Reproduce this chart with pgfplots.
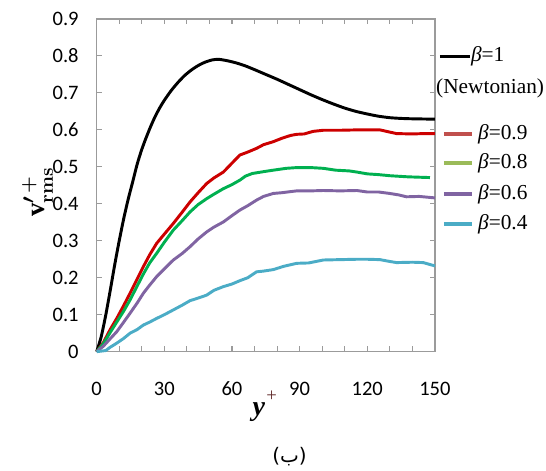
\documentclass[border=0pt]{standalone}
\usepackage{fontspec}
\setmainfont{Liberation Serif}
\newfontfamily\carlito{Carlito}
\newfontfamily\dejavu{DejaVu Sans}
\newfontfamily\arabicfont[Script=Arabic]{DejaVu Sans}
\TeXXeTstate=1
\usepackage{pgfplots}
\pgfplotsset{compat=1.18}

\definecolor{frame}{RGB}{155,155,155}
\definecolor{cNine}{RGB}{204,0,0}
\definecolor{cEight}{RGB}{0,176,80}
\definecolor{cSix}{RGB}{128,100,162}
\definecolor{cFour}{RGB}{75,172,198}
\definecolor{lNine}{RGB}{192,80,77}
\definecolor{lEight}{RGB}{155,187,89}
\definecolor{supcol}{RGB}{95,40,40}

\begin{document}
\begin{tikzpicture}
\begin{axis}[
  name=ax,
  scale only axis,
  width=253.7pt, height=249.5pt,
  xmin=0, xmax=150, ymin=0, ymax=0.9,
  xtick={0,30,...,150},
  minor xtick={10,20,40,50,70,80,100,110,130,140},
  ytick={0,0.1,...,0.9},
  yticklabels={0,0.1,0.2,0.3,0.4,0.5,0.6,0.7,0.8,0.9},
  tick align=inside,
  major tick length=4pt, minor tick length=4pt,
  tick style={frame, line width=0.8pt},
  axis line style={frame, line width=0.9pt},
  /pgf/number format/assume math mode=true,
  ticklabel style={font=\carlito\fontsize{15.4}{18}\selectfont},
  xticklabel style={yshift=-19pt},
  yticklabel style={xshift=-10pt},
  clip=false,
]
% beta = 1 (Newtonian)
\addplot[black, line width=2.2pt, smooth, tension=0.4] coordinates {
(0,0) (2,0.04) (4,0.098) (6,0.165) (8,0.235) (10,0.3) (12,0.36)
(14,0.413) (16,0.46) (18,0.508) (20,0.547) (22,0.58) (24,0.61)
(26,0.637) (28,0.66) (30,0.68) (33,0.706) (36,0.728) (39,0.747)
(42,0.762) (45,0.774) (48,0.783) (51,0.789) (54,0.791) (58,0.787)
(62,0.781) (66,0.773) (70,0.763) (75,0.75) (80,0.737) (85,0.723)
(90,0.709) (95,0.695) (100,0.682) (105,0.67) (110,0.659) (115,0.65)
(120,0.643) (125,0.637) (130,0.633) (135,0.631) (140,0.63) (150,0.629)};

% beta = 0.9
\addplot[cNine, line width=2.2pt] coordinates {
(0,0) (3,0.025) (6,0.06) (8.9,0.09) (12,0.125) (14.8,0.158) (18,0.197)
(20.7,0.23) (23.5,0.262) (26.6,0.293) (30,0.318) (34,0.347) (38,0.378)
(41.4,0.405) (45,0.43) (48.8,0.455) (52,0.47) (56.2,0.486) (60,0.51)
(63.5,0.532) (67,0.54) (70.9,0.55) (74,0.56) (78.3,0.568) (82,0.577)
(86,0.585) (88.7,0.588) (92,0.589) (96,0.596) (100.5,0.599) (108,0.599)
(115.3,0.6) (120,0.6) (125.6,0.6) (130,0.594) (133,0.59) (140,0.589)
(145,0.59) (150,0.59)};

% beta = 0.8
\addplot[cEight, line width=2.2pt] coordinates {
(0,0) (3,0.022) (6,0.052) (8.9,0.08) (12,0.11) (14.8,0.14) (18,0.178)
(20.7,0.21) (23.5,0.24) (26.6,0.266) (30,0.296) (34,0.329) (38,0.355)
(41.4,0.378) (45,0.398) (48.8,0.414) (52,0.426) (56.2,0.441) (60,0.452)
(63.5,0.464) (66,0.475) (69,0.482) (74,0.487) (78.3,0.491) (84,0.496)
(88.7,0.498) (95,0.498) (100.5,0.496) (106,0.491) (112,0.489)
(115.3,0.486) (120,0.481) (125,0.479) (130,0.476) (138,0.473)
(147.8,0.471)};

% beta = 0.6
\addplot[cSix, line width=2.2pt] coordinates {
(0,0) (3,0.015) (6,0.035) (8.9,0.054) (12,0.08) (14.8,0.104) (18,0.132)
(20.7,0.158) (23.5,0.18) (26.6,0.203) (30,0.224) (34,0.248) (38,0.266)
(41.4,0.284) (45,0.305) (48.8,0.324) (52,0.337) (56.2,0.351) (60,0.368)
(63.5,0.383) (67,0.395) (70.9,0.41) (74,0.42) (78.3,0.428) (82,0.43)
(88.7,0.435) (95,0.435) (100.5,0.436) (108,0.435) (115.3,0.436)
(120,0.432) (125,0.432) (130,0.428) (134,0.424) (137.4,0.419)
(143,0.42) (150,0.416)};

% beta = 0.4
\addplot[cFour, line width=2.2pt] coordinates {
(0,0) (4,0.003) (6,0.012) (8.9,0.023) (12,0.036) (14.8,0.05) (18,0.06)
(20.7,0.072) (23.5,0.08) (26.6,0.09) (30,0.1) (34,0.113) (38,0.126)
(41.4,0.138) (45,0.145) (48.8,0.153) (52,0.166) (56.2,0.176) (60,0.183)
(63.5,0.192) (67,0.2) (70.9,0.216) (74,0.218) (78.3,0.222) (83,0.231)
(88.7,0.239) (94,0.24) (100.5,0.248) (108,0.249) (115.3,0.25)
(120,0.25) (125.6,0.249) (130,0.244) (133,0.241) (140,0.242)
(144.8,0.241) (150,0.232)};

% legend, set beside the frame
\begin{scope}[line width=2.6pt]
  \draw[black]  (rel axis cs:1.0148,0.8867) -- (rel axis cs:1.1035,0.8867);
  \draw[lNine]  (rel axis cs:1.0267,0.6543) -- (rel axis cs:1.1094,0.6543);
  \draw[lEight] (rel axis cs:1.0267,0.5672) -- (rel axis cs:1.1094,0.5672);
  \draw[cSix]   (rel axis cs:1.0267,0.4740) -- (rel axis cs:1.1094,0.4740);
  \draw[cFour]  (rel axis cs:1.0267,0.3838) -- (rel axis cs:1.1094,0.3838);
\end{scope}
\begin{scope}[every node/.style={anchor=west, inner sep=0pt, font=\fontsize{16}{18}\selectfont}]
  \node at (rel axis cs:1.106,0.8867) {\textit{β}=1};
  \node at (rel axis cs:1.003,0.7926) {(Newtonian)};
  \node at (rel axis cs:1.127,0.6543) {\textit{β}=0.9};
  \node at (rel axis cs:1.127,0.5672) {\textit{β}=0.8};
  \node at (rel axis cs:1.127,0.4740) {\textit{β}=0.6};
  \node at (rel axis cs:1.127,0.3838) {\textit{β}=0.4};
\end{scope}

% axis titles
\node[font=\bfseries\fontsize{21}{24}\selectfont] at (rel axis cs:0.497,-0.165)
  {\textit{y}\hspace{1pt}\raisebox{0.5em}{\fontsize{14}{16}\selectfont\mdseries\color{supcol}+}};
\node[rotate=90, font=\boldmath\fontsize{20}{24}\selectfont] at (rel axis cs:-0.175,0.48)
  {\textbf{v}$^{\prime\,+}_{\mathbf{rms}}$};
\node[font=\fontsize{15}{18}\selectfont] at (rel axis cs:0.57,-0.315)
  {{\dejavu(}{\arabicfont\beginR ب\endR}{\dejavu)}};
\end{axis}
\pgfresetboundingbox
\path (ax.south west) ++(-72.5pt,-89.5pt) rectangle ++(409.5pt,353.25pt);
\end{tikzpicture}
\end{document}
